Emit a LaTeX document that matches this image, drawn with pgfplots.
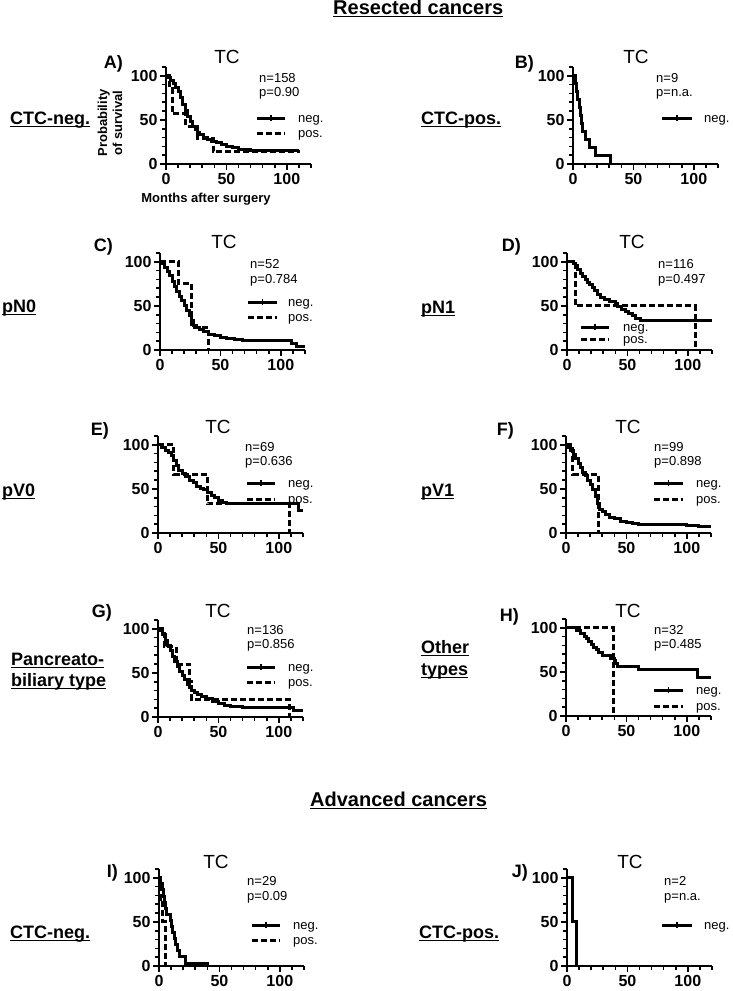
\documentclass[border=0pt]{standalone}
\usepackage{fontspec}
\setmainfont{Liberation Sans}
\usepackage{pgfplots}
\pgfplotsset{compat=1.18}
\newcommand{\ul}[1]{\setbox0\hbox{#1}\rlap{\rule[-3.2pt]{\wd0}{1.6pt}}\box0}
\pgfplotsset{
  km/.style={
    scale only axis, width=145pt, height=97pt,
    xmin=0, xmax=120, ymin=0, ymax=110,
    axis lines=left, axis line style={-, line width=2pt},
    xtick={0,50,100}, ytick={0,50,100},
    minor xtick={10,20,...,120}, minor ytick={10,20,...,110},
    tick align=outside, major tick length=6pt, minor tick length=4pt,
    major tick style={line width=1.6pt, black},
    minor tick style={line width=1.6pt, black},
    xticklabel style={font=\fontsize{16}{16}\selectfont\bfseries},
    yticklabel style={font=\fontsize{16}{16}\selectfont\bfseries, xshift=1pt},
    /pgf/number format/assume math mode=true,
    anchor=south west, clip=false,
  },
  neg/.style={const plot, black, line width=3pt, mark=none},
  pos/.style={const plot, black, line width=3pt, dash pattern=on 6pt off 3pt, mark=none},
}
\tikzset{
  big/.style={font=\fontsize{18}{18}\selectfont\bfseries, inner sep=0pt},
  head/.style={font=\fontsize{20}{20}\selectfont\bfseries, inner sep=0pt},
  tc/.style={font=\fontsize{19}{19}\selectfont, inner sep=0pt, anchor=base},
  np/.style={font=\fontsize{13}{13}\selectfont, inner sep=0pt, anchor=base west},
  lab/.style={font=\fontsize{13}{13}\selectfont\bfseries, inner sep=0pt},
}
% legend helpers: #1 x1, #2 x2, #3 y, #4 label x
\newcommand{\legneg}[4]{%
  \draw[line width=3pt] (#1pt,-#3pt) -- (#2pt,-#3pt);
  \draw[line width=1.4pt] ({(#1+#2)/2*1pt},{-#3pt+3pt}) -- ({(#1+#2)/2*1pt},{-#3pt-3pt});
  \node[np] at (#4pt,{-#3pt-4pt}) {neg.};}
\newcommand{\legpos}[4]{%
  \draw[line width=3pt, dash pattern=on 6pt off 3pt] (#1pt,-#3pt) -- (#2pt,-#3pt);
  \node[np] at (#4pt,{-#3pt-4pt}) {pos.};}
\begin{document}
\begin{tikzpicture}
\path[use as bounding box] (0,0) rectangle (732pt,-991pt);
% headings
\node[head, anchor=base west] at (333pt,-14pt) {\ul{Resected cancers}};
\node[head, anchor=base west] at (310pt,-806pt) {\ul{Advanced cancers}};
% row labels
\node[big, anchor=base west] at (10pt,-124pt) {\ul{CTC-neg.}};
\node[big, anchor=base west] at (421pt,-124pt) {\ul{CTC-pos.}};
\node[big, anchor=base west] at (2pt,-312pt) {\ul{pN0}};
\node[big, anchor=base west] at (421pt,-313pt) {\ul{pN1}};
\node[big, anchor=base west] at (2pt,-496pt) {\ul{pV0}};
\node[big, anchor=base west] at (421pt,-496pt) {\ul{pV1}};
\node[big, anchor=base west] at (11pt,-665pt) {\ul{Pancreato-}};
\node[big, anchor=base west] at (11pt,-686pt) {\ul{biliary type}};
\node[big, anchor=base west] at (421pt,-653pt) {\ul{Other}};
\node[big, anchor=base west] at (421pt,-675pt) {\ul{types}};
\node[big, anchor=base west] at (10pt,-938pt) {\ul{CTC-neg.}};
\node[big, anchor=base west] at (419pt,-938pt) {\ul{CTC-pos.}};
% panel letters
\node[big, anchor=base east] at (123pt,-68pt) {A)};
\node[big, anchor=base east] at (534pt,-68pt) {B)};
\node[big, anchor=base east] at (113pt,-251pt) {C)};
\node[big, anchor=base east] at (521pt,-251pt) {D)};
\node[big, anchor=base east] at (109pt,-435pt) {E)};
\node[big, anchor=base east] at (514pt,-435pt) {F)};
\node[big, anchor=base east] at (112pt,-617pt) {G)};
\node[big, anchor=base east] at (519pt,-621pt) {H)};
\node[big, anchor=base east] at (118pt,-877pt) {I)};
\node[big, anchor=base east] at (528pt,-877pt) {J)};
% TC titles
\node[tc] at (227pt,-63pt) {TC};
\node[tc] at (636pt,-63pt) {TC};
\node[tc] at (224pt,-248pt) {TC};
\node[tc] at (632pt,-248pt) {TC};
\node[tc] at (218pt,-433pt) {TC};
\node[tc] at (628pt,-433pt) {TC};
\node[tc] at (218pt,-617pt) {TC};
\node[tc] at (628pt,-617pt) {TC};
\node[tc] at (216pt,-868pt) {TC};
\node[tc] at (630pt,-868pt) {TC};
% n / p
\node[np] at (259pt,-82pt) {n=158}; \node[np] at (259pt,-96pt) {p=0.90};
\node[np] at (656pt,-82pt) {n=9}; \node[np] at (656pt,-96pt) {p=n.a.};
\node[np] at (250pt,-268pt) {n=52}; \node[np] at (250pt,-283pt) {p=0.784};
\node[np] at (658pt,-268pt) {n=116}; \node[np] at (658pt,-283pt) {p=0.497};
\node[np] at (245pt,-451pt) {n=69}; \node[np] at (245pt,-465pt) {p=0.636};
\node[np] at (654pt,-451pt) {n=99}; \node[np] at (654pt,-465pt) {p=0.898};
\node[np] at (247pt,-634pt) {n=136}; \node[np] at (247pt,-648pt) {p=0.856};
\node[np] at (654pt,-634pt) {n=32}; \node[np] at (654pt,-648pt) {p=0.485};
\node[np] at (247pt,-885pt) {n=29}; \node[np] at (247pt,-900pt) {p=0.09};
\node[np] at (664pt,-885pt) {n=2}; \node[np] at (664pt,-900pt) {p=n.a.};
% legends
\legneg{257}{285}{118}{298} \legpos{257}{285}{133}{298}
\legneg{662}{692}{118}{704}
\legneg{248}{277}{302}{288} \legpos{248}{277}{317}{288}
\legneg{581}{609}{327}{623} \legpos{581}{609}{339}{623}
\legneg{247}{275}{483}{288} \legpos{247}{275}{499}{288}
\legneg{654}{683}{483}{696} \legpos{654}{683}{499}{696}
\legneg{247}{275}{667}{288} \legpos{247}{275}{682}{288}
\legneg{654}{683}{690}{696} \legpos{654}{683}{706}{696}
\legneg{252}{280}{925}{293} \legpos{252}{280}{940}{293}
\legneg{662}{692}{925}{704}
% axis labels panel A
\node[lab, anchor=base] at (206pt,-202pt) {Months after surgery};
\node[lab, anchor=base, rotate=90] at (107pt,-123pt) {Probability};
\node[lab, anchor=base, rotate=90] at (122pt,-123pt) {of survival};

% ---------- A ----------
\begin{axis}[km, at={(166pt,-164pt)}]
\addplot[neg] coordinates {(0,100)(2,98)(4,95)(6,91)(8,87)(10,82)(12,75)(14,68)(16,61)(18,54)(20,48)(22,43)(24,39)(26,36)(28,33)(31,30)(34,28)(38,26)(42,24)(46,22)(50,20)(55,19)(60,17)(65,16)(70,15.5)(110,15.5)};
\addplot[pos] coordinates {(0,100)(3,85.7)(5,57.1)(16,42.9)(26,28.6)(39,14.3)(111,14.3)};
\end{axis}
% ---------- B ----------
\begin{axis}[km, at={(573pt,-164pt)}]
\addplot[neg] coordinates {(0,100)(2,90.9)(3,81.8)(4,72.7)(5,63.6)(6,54.5)(7,45.5)(7.6,36.4)(10.4,27.3)(13.7,18.2)(18.6,9.1)(31,0)};
\end{axis}
% ---------- C ----------
\begin{axis}[km, at={(160pt,-350pt)}]
\addplot[neg] coordinates {(0,100)(2,98)(4,94)(6,89)(8,84)(10,78)(12,72)(14,66)(16,61)(18,56)(20,50)(22,45)(24,39)(26,33)(28,28)(30,25)(33,23)(36,21)(40,18)(45,16)(50,14)(55,13)(62,12)(68,11.3)(109,7.5)(113,4)(120,4)};
\addplot[pos] coordinates {(0,100)(15.3,75)(26.4,25)(40,0)};
\end{axis}
% ---------- D ----------
\begin{axis}[km, at={(567pt,-350pt)}]
\addplot[neg] coordinates {(0,100)(5,98)(7,96)(9,91)(11,87)(13,83)(15,80)(17,77)(19,74)(21,71)(23,67)(25,63)(28,60)(31,57)(35,55)(40,53)(42,49)(45,46)(48,44)(51,41)(54,39)(57,36)(61,33)(120,33)};
\addplot[pos] coordinates {(0,100)(6.8,50)(106,0)};
\end{axis}
% ---------- E ----------
\begin{axis}[km, at={(158pt,-533pt)}]
\addplot[neg] coordinates {(0,100)(3,97)(6,94)(9,91)(11,88)(13,82)(15,76)(17,71)(20,67)(23,64)(26,60)(29,57)(32,53)(35,51)(38,49)(41,46)(44,43)(47,40)(50,37)(53,35)(57,34)(80,33)(116,26)(120,26)};
\addplot[pos] coordinates {(0,100)(13,66.7)(40.8,33.3)(109,0)};
\end{axis}
% ---------- F ----------
\begin{axis}[km, at={(566pt,-533pt)}]
\addplot[neg] coordinates {(0,100)(2,97)(4,93)(6,89)(8,84)(10,79)(12,74)(14,69)(16,65)(18,60)(20,55)(22,49)(24,41)(26,33)(28,27)(30,24)(33,21)(36,18)(40,16)(45,13.5)(50,12)(55,11)(60,9.5)(100,9)(110,7.5)(120,7.5)};
\addplot[pos] coordinates {(0,100)(5.5,66.7)(26.5,0)};
\end{axis}
% ---------- G ----------
\begin{axis}[km, at={(158pt,-717pt)}]
\addplot[neg] coordinates {(0,100)(2,98)(4,93)(6,87)(8,81)(10,75)(12,69)(14,63)(16,57)(18,52)(20,47)(22,42)(24,37)(26,33)(28,30)(30,28)(33,25)(36,23)(40,21)(45,18)(50,15)(55,13)(60,11.5)(70,10.5)(112,7.5)(120,7.5)};
\addplot[pos] coordinates {(0,100)(5,80)(15,60)(26,40)(28,20)(109,0)};
\end{axis}
% ---------- H ----------
\begin{axis}[km, at={(566pt,-716pt)}]
\addplot[neg] coordinates {(0,100)(9,96.9)(12,93.8)(15,90.6)(17,87.5)(19,84.4)(21,81.3)(23,78.1)(25,75)(27,71.9)(30,68.8)(37,65.6)(40,62.5)(41,59.4)(43,56.3)(60,52.5)(109,44)(120,44)};
\addplot[pos] coordinates {(0,100)(39,0)};
\end{axis}
% ---------- I ----------
\begin{axis}[km, at={(159pt,-966pt)}]
\addplot[neg] coordinates {(0,100)(1.5,93.1)(2.5,86.2)(3.5,79.3)(4.5,72.4)(5.5,65.5)(6.5,58.6)(9.5,51.7)(10.5,44.8)(11.5,37.9)(13,31)(14,24.1)(15.5,17.2)(17,10.3)(22,3.4)(40,0)};
\addplot[pos] coordinates {(0,100)(1.5,75)(3,50)(5,0)};
\end{axis}
% ---------- J ----------
\begin{axis}[km, at={(567pt,-966pt)}]
\addplot[neg] coordinates {(0,100)(4.6,50)(7.8,0)};
\end{axis}
\end{tikzpicture}
\end{document}
